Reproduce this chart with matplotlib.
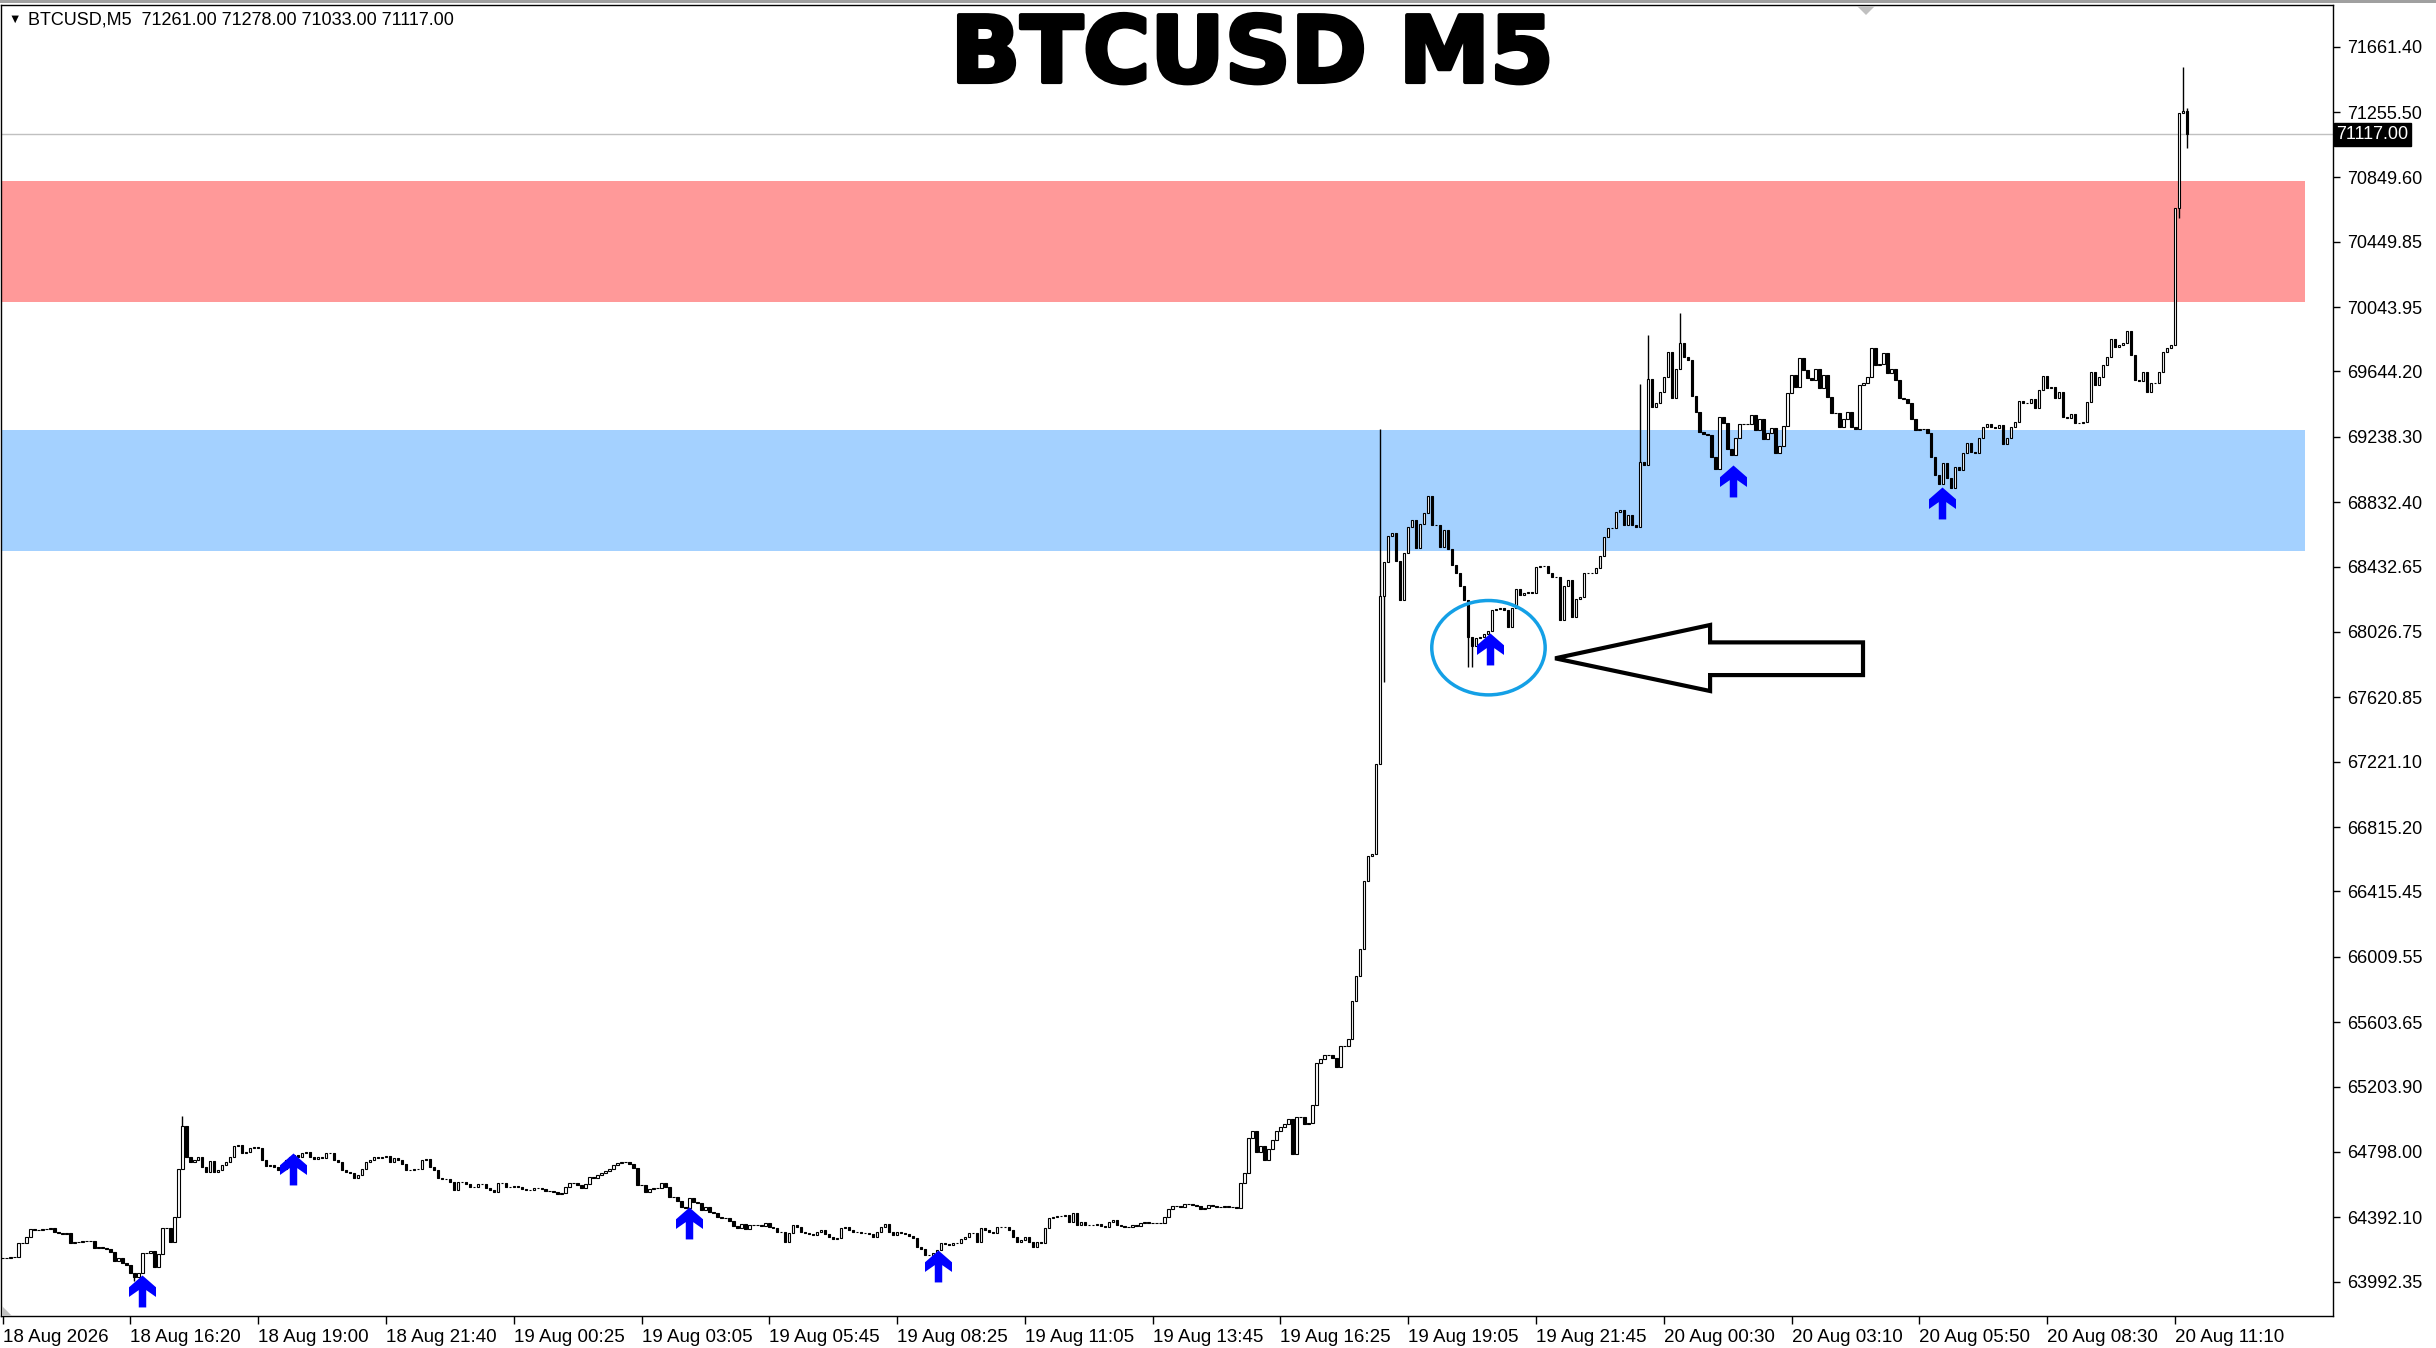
import matplotlib
matplotlib.use("Agg")
import matplotlib.pyplot as plt
import matplotlib.patheffects as pe
from matplotlib.path import Path
from matplotlib.patches import Ellipse, Polygon, Rectangle
import numpy as np

# BTCUSD M5 closes, one per bar (bar 0 = 18 Aug 13:40)
first_open = 64140
closes = [
    64137, 64141, 64147, 64143, 64230, 64230, 64271, 64317, 64313, 64313,
    64317, 64317, 64327, 64302, 64292, 64288, 64292, 64234, 64240, 64240,
    64246, 64246, 64246, 64199, 64205, 64199, 64193, 64178, 64122, 64137,
    64106, 64095, 64048, 64023, 64048, 64168, 64172, 64180, 64085, 64164,
    64323, 64323, 64240, 64395, 64689, 64958, 64768, 64737, 64747, 64764,
    64706, 64675, 64743, 64675, 64685, 64716, 64737, 64768, 64836, 64840,
    64789, 64799, 64820, 64826, 64820, 64747, 64710, 64716, 64706, 64685,
    64689, 64747, 64768, 64776, 64768, 64793, 64799, 64768, 64751, 64768,
    64758, 64793, 64793, 64747, 64737, 64685, 64675, 64665, 64634, 64654,
    64689, 64737, 64747, 64768, 64758, 64768, 64772, 64737, 64758, 64747,
    64722, 64685, 64685, 64689, 64693, 64747, 64751, 64706, 64685, 64634,
    64627, 64627, 64613, 64561, 64613, 64613, 64596, 64582, 64582, 64596,
    64598, 64571, 64561, 64551, 64602, 64607, 64582, 64582, 64586, 64582,
    64569, 64561, 64561, 64571, 64571, 64565, 64557, 64557, 64551, 64536,
    64540, 64582, 64602, 64607, 64592, 64571, 64598, 64640, 64633, 64654,
    64665, 64681, 64689, 64716, 64727, 64737, 64737, 64722, 64696, 64592,
    64592, 64551, 64565, 64571, 64571, 64602, 64578, 64520, 64520, 64493,
    64458, 64447, 64509, 64489, 64478, 64437, 64458, 64427, 64420, 64395,
    64385, 64385, 64371, 64337, 64327, 64350, 64317, 64344, 64344, 64344,
    64337, 64354, 64333, 64323, 64302, 64302, 64240, 64292, 64344, 64329,
    64302, 64296, 64288, 64282, 64302, 64313, 64288, 64267, 64255, 64261,
    64323, 64333, 64313, 64302, 64302, 64296, 64296, 64288, 64271, 64302,
    64333, 64350, 64302, 64282, 64302, 64296, 64288, 64275, 64261, 64209,
    64193, 64157, 64157, 64168, 64188, 64234, 64226, 64220, 64230, 64230,
    64255, 64271, 64292, 64296, 64240, 64323, 64313, 64302, 64296, 64333,
    64333, 64329, 64313, 64271, 64240, 64251, 64267, 64240, 64209, 64240,
    64230, 64323, 64385, 64395, 64400, 64400, 64406, 64364, 64416, 64344,
    64364, 64344, 64344, 64344, 64348, 64337, 64329, 64364, 64375, 64344,
    64337, 64333, 64333, 64344, 64337, 64354, 64364, 64354, 64358, 64358,
    64358, 64392, 64443, 64460, 64460, 64453, 64474, 64474, 64467, 64460,
    64443, 64450, 64467, 64460, 64453, 64453, 64460, 64453, 64453, 64450,
    64603, 64664, 64885, 64926, 64800, 64834, 64749, 64817, 64869, 64926,
    64950, 64971, 65005, 64783, 65012, 65012, 64971, 64978, 65090, 65352,
    65373, 65397, 65397, 65380, 65328, 65454, 65454, 65499, 65737, 65890,
    66061, 66480, 66633, 66647, 67209, 68251, 68462, 68622, 68639, 68469,
    68224, 68520, 68677, 68724, 68547, 68700, 68768, 68871, 68691, 68691,
    68556, 68660, 68539, 68442, 68390, 68312, 68225, 67997, 67939, 67987,
    67997, 68014, 68034, 68163, 68167, 68173, 68163, 68059, 68173, 68291,
    68256, 68266, 68277, 68270, 68428, 68436, 68436, 68390, 68370, 68366,
    68101, 68312, 68349, 68117, 68229, 68246, 68395, 68395, 68390, 68421,
    68498, 68618, 68670, 68670, 68773, 68784, 68691, 68753, 68691, 68680,
    69084, 69063, 69595, 69425, 69446, 69519, 69612, 69767, 69477, 69657,
    69819, 69736, 69715, 69492, 69394, 69270, 69256, 69250, 69115, 69036,
    69363, 69322, 69160, 69125, 69229, 69318, 69318, 69318, 69374, 69281,
    69347, 69223, 69260, 69291, 69140, 69181, 69305, 69512, 69622, 69545,
    69726, 69653, 69601, 69591, 69657, 69539, 69622, 69487, 69384, 69384,
    69297, 69347, 69394, 69301, 69284, 69560, 69570, 69607, 69787, 69684,
    69688, 69756, 69636, 69657, 69591, 69477, 69471, 69446, 69347, 69280,
    69284, 69284, 69260, 69115, 69001, 68945, 69078, 68980, 68918, 69048,
    69032, 69140, 69202, 69146, 69140, 69229, 69301, 69318, 69301, 69291,
    69311, 69193, 69229, 69301, 69332, 69463, 69446, 69446, 69471, 69415,
    69529, 69616, 69539, 69549, 69477, 69518, 69359, 69353, 69380, 69326,
    69326, 69332, 69456, 69643, 69560, 69612, 69684, 69732, 69843, 69794,
    69808, 69819, 69897, 69746, 69591, 69587, 69643, 69518, 69570, 69570,
    69643, 69767, 69787, 69808, 70657, 71247, 71261, 71117,
]
# visible wicks beyond the bodies
wick_high = {45: 65021, 345: 69289, 410: 69566, 412: 69871, 420: 70005,
             546: 71537, 547: 71278}
wick_low = {33: 63998, 346: 67713, 367: 67811, 368: 67811, 545: 70595,
            547: 71033}

last_price = 71117.00
header = "BTCUSD,M5  71261.00 71278.00 71033.00 71117.00"

ytick_vals = [71661.40, 71255.50, 70849.60, 70449.85, 70043.95, 69644.20,
              69238.30, 68832.40, 68432.65, 68026.75, 67620.85, 67221.10,
              66815.20, 66415.45, 66009.55, 65603.65, 65203.90, 64798.00,
              64392.10, 63992.35]
xtick_bars = [0, 32, 64, 96, 128, 160, 192, 224, 256, 288, 320, 352, 384,
              416, 448, 480, 512, 544]
xtick_labels = ["18 Aug 2026", "18 Aug 16:20", "18 Aug 19:00", "18 Aug 21:40",
                "19 Aug 00:25", "19 Aug 03:05", "19 Aug 05:45", "19 Aug 08:25",
                "19 Aug 11:05", "19 Aug 13:45", "19 Aug 16:25", "19 Aug 19:05",
                "19 Aug 21:45", "20 Aug 00:30", "20 Aug 03:10", "20 Aug 05:50",
                "20 Aug 08:30", "20 Aug 11:10"]

# zones (price low, high)
red_zone = (70078, 70825)
blue_zone = (68531, 69280)
zone_end = 576.7

# buy arrows: bar position, price at arrow tip
arrow_x = [34.8, 72.8, 171.9, 234.2, 372.5, 433.4, 485.7]
arrow_y = [64033, 64793, 64457, 64188, 68018, 69063, 68929]

# circled area and pointer
circle_center = (372.1, 67929)
circle_w, circle_h = 28.4, 586
pointer_x = [388.8, 427.6, 427.6, 465.9, 465.9, 427.6, 427.6]
pointer_y = [67863, 68070, 67962, 67962, 67759, 67759, 67660]

W, H = 2436, 1348
fig = plt.figure(figsize=(W / 100, H / 100), dpi=100)
ax = fig.add_axes([1 / W, 32 / H, 2332 / W, 1311 / H])
ax.set_xlim(-0.41, 583.6)
ax.set_ylim(63779, 71920)

closes = np.array(closes, dtype=float)
opens = np.r_[first_open, closes[:-1]]
highs = np.maximum(opens, closes)
lows = np.minimum(opens, closes)
for k, v in wick_high.items():
    highs[k] = max(highs[k], v)
for k, v in wick_low.items():
    lows[k] = min(lows[k], v)
idx = np.arange(len(closes))

ax.add_patch(Rectangle((-5, red_zone[0]), zone_end + 5, red_zone[1] - red_zone[0],
                       facecolor="#FF9999", edgecolor="none", zorder=1))
ax.add_patch(Rectangle((-5, blue_zone[0]), zone_end + 5, blue_zone[1] - blue_zone[0],
                       facecolor="#A4D1FF", edgecolor="none", zorder=1))
ax.axhline(last_price, color="#C0C0C0", lw=1, zorder=2)

ax.vlines(idx, lows, highs, color="black", lw=1, zorder=3)
up = closes >= opens
ax.bar(idx[up], (closes - opens)[up], bottom=opens[up], width=0.6,
       color="white", edgecolor="black", lw=0.8, zorder=4)
ax.bar(idx[~up], (opens - closes)[~up], bottom=closes[~up], width=0.6,
       color="black", edgecolor="black", lw=0.8, zorder=4)

# up-arrow marker, tip at origin
verts = [(0, 0), (13.4, -11.7), (13.4, -21.3), (3.7, -14.5), (3.7, -31.7),
         (-3.7, -31.7), (-3.7, -14.5), (-13.4, -21.3), (-13.4, -11.7), (0, 0)]
codes = [Path.MOVETO] + [Path.LINETO] * 8 + [Path.CLOSEPOLY]
up_arrow = Path(verts, codes)
ax.plot(arrow_x, arrow_y, ls="none", marker=up_arrow, markersize=46,
        color="#0000FF", markeredgewidth=0, zorder=6)

ax.add_patch(Ellipse(circle_center, circle_w, circle_h, facecolor="none",
                     edgecolor="#14A0E6", lw=2.5, zorder=7))
ax.add_patch(Polygon(list(zip(pointer_x, pointer_y)), closed=True,
                     facecolor="none", edgecolor="black", lw=3, zorder=7,
                     joinstyle="miter"))

for s in ax.spines.values():
    s.set_color("black")
    s.set_linewidth(1)

lab_font = ["Liberation Sans", "DejaVu Sans"]
ax.yaxis.tick_right()
ax.set_yticks(ytick_vals)
ax.set_yticklabels([f"{v:.2f}" for v in ytick_vals], family=lab_font, fontsize=13)
ax.tick_params(axis="y", direction="out", length=5, width=1, pad=5)
ax.set_xticks(xtick_bars)
ax.set_xticklabels(xtick_labels, family=lab_font, fontsize=13.5)
for lab in ax.get_xticklabels():
    lab.set_horizontalalignment("left")
ax.tick_params(axis="x", direction="out", length=6, width=1, pad=3)

ax.text(1.0015, last_price, f"{last_price:.2f}", transform=ax.get_yaxis_transform(),
        ha="left", va="center", color="white", family=lab_font, fontsize=13,
        bbox=dict(boxstyle="square,pad=0.15", facecolor="black", edgecolor="black"),
        zorder=10, clip_on=False)

# window top border, chart-shift marker and corner mark
fig.patches.append(Rectangle((0, 1 - 3 / H), 1, 3 / H, transform=fig.transFigure,
                             facecolor="#A0A0A0", edgecolor="none"))
fig.patches.append(Polygon([(1857 / W, 1 - 6 / H), (1875 / W, 1 - 6 / H),
                            (1866 / W, 1 - 15 / H)], closed=True,
                           transform=fig.transFigure, facecolor="#C0C0C0",
                           edgecolor="none"))
fig.patches.append(Polygon([(2 / W, 32 / H), (12 / W, 32 / H), (2 / W, 42 / H)],
                           closed=True, transform=fig.transFigure,
                           facecolor="#C0C0C0", edgecolor="none"))

fig.text(8 / W, 1 - 20 / H, "\u25bc", family=lab_font, fontsize=9,
         ha="left", va="center")
fig.text(28 / W, 1 - 20 / H, header, family=lab_font, fontsize=13,
         ha="left", va="center")
fig.text(1252 / W, 1 - 82 / H, "BTCUSD M5", family="DejaVu Sans",
         fontweight="bold", fontsize=66, ha="center", va="baseline",
         path_effects=[pe.withStroke(linewidth=3, foreground="black")])

fig.savefig("out.png", dpi=100, facecolor="white")
